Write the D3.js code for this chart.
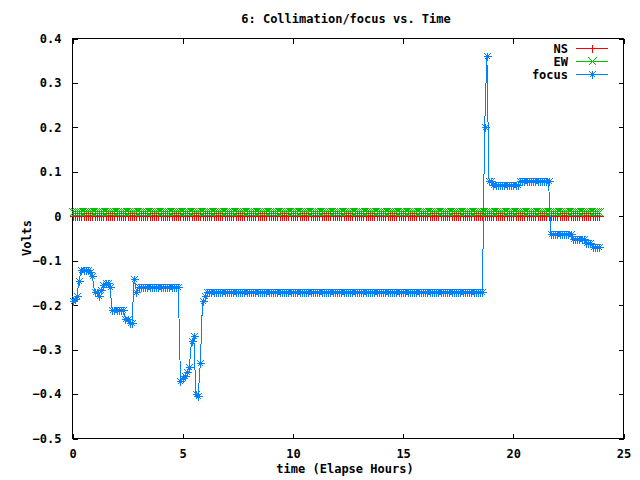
<!DOCTYPE html>
<html>
<head>
<meta charset="utf-8">
<script src="https://cdn.jsdelivr.net/npm/d3@7"></script>
<style>
    body { margin: 0; background: #fff; }
    svg text { font-family: "DejaVu Sans Mono", "Liberation Mono", monospace; font-size: 12px; font-weight: bold; fill: #000; }
</style>
</head>
<body>
<div id="chart"></div>
<script>
// sample times (elapsed hours), one reading every 0.1 h
const hours = [
    0.0, 0.1, 0.2, 0.3, 0.4, 0.5, 0.6, 0.7, 0.8, 0.9, 1.0, 1.1, 1.2, 1.3, 1.4, 1.5, 1.6, 1.7, 1.8, 1.9,
    2.0, 2.1, 2.2, 2.3, 2.4, 2.5, 2.6, 2.7, 2.8, 2.9, 3.0, 3.1, 3.2, 3.3, 3.4, 3.5, 3.6, 3.7, 3.8, 3.9,
    4.0, 4.1, 4.2, 4.3, 4.4, 4.5, 4.6, 4.7, 4.8, 4.9, 5.0, 5.1, 5.2, 5.3, 5.4, 5.5, 5.6, 5.7, 5.8, 5.9,
    6.0, 6.1, 6.2, 6.3, 6.4, 6.5, 6.6, 6.7, 6.8, 6.9, 7.0, 7.1, 7.2, 7.3, 7.4, 7.5, 7.6, 7.7, 7.8, 7.9,
    8.0, 8.1, 8.2, 8.3, 8.4, 8.5, 8.6, 8.7, 8.8, 8.9, 9.0, 9.1, 9.2, 9.3, 9.4, 9.5, 9.6, 9.7, 9.8, 9.9,
    10.0, 10.1, 10.2, 10.3, 10.4, 10.5, 10.6, 10.7, 10.8, 10.9, 11.0, 11.1, 11.2, 11.3, 11.4, 11.5, 11.6, 11.7, 11.8, 11.9,
    12.0, 12.1, 12.2, 12.3, 12.4, 12.5, 12.6, 12.7, 12.8, 12.9, 13.0, 13.1, 13.2, 13.3, 13.4, 13.5, 13.6, 13.7, 13.8, 13.9,
    14.0, 14.1, 14.2, 14.3, 14.4, 14.5, 14.6, 14.7, 14.8, 14.9, 15.0, 15.1, 15.2, 15.3, 15.4, 15.5, 15.6, 15.7, 15.8, 15.9,
    16.0, 16.1, 16.2, 16.3, 16.4, 16.5, 16.6, 16.7, 16.8, 16.9, 17.0, 17.1, 17.2, 17.3, 17.4, 17.5, 17.6, 17.7, 17.8, 17.9,
    18.0, 18.1, 18.2, 18.3, 18.4, 18.5, 18.6, 18.7, 18.8, 18.9, 19.0, 19.1, 19.2, 19.3, 19.4, 19.5, 19.6, 19.7, 19.8, 19.9,
    20.0, 20.1, 20.2, 20.3, 20.4, 20.5, 20.6, 20.7, 20.8, 20.9, 21.0, 21.1, 21.2, 21.3, 21.4, 21.5, 21.6, 21.7, 21.8, 21.9,
    22.0, 22.1, 22.2, 22.3, 22.4, 22.5, 22.6, 22.7, 22.8, 22.9, 23.0, 23.1, 23.2, 23.3, 23.4, 23.5, 23.6, 23.7, 23.8, 23.9
];

const nsVolts = [
    0, 0, 0, 0, 0, 0, 0, 0, 0, 0, 0, 0, 0, 0, 0, 0, 0, 0, 0, 0,
    0, 0, 0, 0, 0, 0, 0, 0, 0, 0, 0, 0, 0, 0, 0, 0, 0, 0, 0, 0,
    0, 0, 0, 0, 0, 0, 0, 0, 0, 0, 0, 0, 0, 0, 0, 0, 0, 0, 0, 0,
    0, 0, 0, 0, 0, 0, 0, 0, 0, 0, 0, 0, 0, 0, 0, 0, 0, 0, 0, 0,
    0, 0, 0, 0, 0, 0, 0, 0, 0, 0, 0, 0, 0, 0, 0, 0, 0, 0, 0, 0,
    0, 0, 0, 0, 0, 0, 0, 0, 0, 0, 0, 0, 0, 0, 0, 0, 0, 0, 0, 0,
    0, 0, 0, 0, 0, 0, 0, 0, 0, 0, 0, 0, 0, 0, 0, 0, 0, 0, 0, 0,
    0, 0, 0, 0, 0, 0, 0, 0, 0, 0, 0, 0, 0, 0, 0, 0, 0, 0, 0, 0,
    0, 0, 0, 0, 0, 0, 0, 0, 0, 0, 0, 0, 0, 0, 0, 0, 0, 0, 0, 0,
    0, 0, 0, 0, 0, 0, 0, 0, 0, 0, 0, 0, 0, 0, 0, 0, 0, 0, 0, 0,
    0, 0, 0, 0, 0, 0, 0, 0, 0, 0, 0, 0, 0, 0, 0, 0, 0, 0, 0, 0,
    0, 0, 0, 0, 0, 0, 0, 0, 0, 0, 0, 0, 0, 0, 0, 0, 0, 0, 0, 0
];

const ewVolts = [
    0.01, 0.01, 0.01, 0.01, 0.01, 0.01, 0.01, 0.01, 0.01, 0.01, 0.01, 0.01, 0.01, 0.01, 0.01, 0.01, 0.01, 0.01, 0.01, 0.01,
    0.01, 0.01, 0.01, 0.01, 0.01, 0.01, 0.01, 0.01, 0.01, 0.01, 0.01, 0.01, 0.01, 0.01, 0.01, 0.01, 0.01, 0.01, 0.01, 0.01,
    0.01, 0.01, 0.01, 0.01, 0.01, 0.01, 0.01, 0.01, 0.01, 0.01, 0.01, 0.01, 0.01, 0.01, 0.01, 0.01, 0.01, 0.01, 0.01, 0.01,
    0.01, 0.01, 0.01, 0.01, 0.01, 0.01, 0.01, 0.01, 0.01, 0.01, 0.01, 0.01, 0.01, 0.01, 0.01, 0.01, 0.01, 0.01, 0.01, 0.01,
    0.01, 0.01, 0.01, 0.01, 0.01, 0.01, 0.01, 0.01, 0.01, 0.01, 0.01, 0.01, 0.01, 0.01, 0.01, 0.01, 0.01, 0.01, 0.01, 0.01,
    0.01, 0.01, 0.01, 0.01, 0.01, 0.01, 0.01, 0.01, 0.01, 0.01, 0.01, 0.01, 0.01, 0.01, 0.01, 0.01, 0.01, 0.01, 0.01, 0.01,
    0.01, 0.01, 0.01, 0.01, 0.01, 0.01, 0.01, 0.01, 0.01, 0.01, 0.01, 0.01, 0.01, 0.01, 0.01, 0.01, 0.01, 0.01, 0.01, 0.01,
    0.01, 0.01, 0.01, 0.01, 0.01, 0.01, 0.01, 0.01, 0.01, 0.01, 0.01, 0.01, 0.01, 0.01, 0.01, 0.01, 0.01, 0.01, 0.01, 0.01,
    0.01, 0.01, 0.01, 0.01, 0.01, 0.01, 0.01, 0.01, 0.01, 0.01, 0.01, 0.01, 0.01, 0.01, 0.01, 0.01, 0.01, 0.01, 0.01, 0.01,
    0.01, 0.01, 0.01, 0.01, 0.01, 0.01, 0.01, 0.01, 0.01, 0.01, 0.01, 0.01, 0.01, 0.01, 0.01, 0.01, 0.01, 0.01, 0.01, 0.01,
    0.01, 0.01, 0.01, 0.01, 0.01, 0.01, 0.01, 0.01, 0.01, 0.01, 0.01, 0.01, 0.01, 0.01, 0.01, 0.01, 0.01, 0.01, 0.01, 0.01,
    0.01, 0.01, 0.01, 0.01, 0.01, 0.01, 0.01, 0.01, 0.01, 0.01, 0.01, 0.01, 0.01, 0.01, 0.01, 0.01, 0.01, 0.01, 0.01, 0.01
];

const focusVolts = [
    -0.19, -0.185, -0.18, -0.145, -0.12, -0.12, -0.12, -0.12, -0.125, -0.135,
    -0.17, -0.17, -0.18, -0.165, -0.155, -0.15, -0.15, -0.16, -0.21, -0.21,
    -0.21, -0.21, -0.21, -0.21, -0.23, -0.23, -0.24, -0.24, -0.14, -0.17,
    -0.16, -0.16, -0.16, -0.16, -0.16, -0.16, -0.16, -0.16, -0.16, -0.16,
    -0.16, -0.16, -0.16, -0.16, -0.16, -0.16, -0.16, -0.16, -0.16, -0.37,
    -0.365, -0.36, -0.35, -0.34, -0.28, -0.27, -0.40, -0.405, -0.33, -0.19,
    -0.18, -0.17, -0.17, -0.17, -0.17, -0.17, -0.17, -0.17, -0.17, -0.17,
    -0.17, -0.17, -0.17, -0.17, -0.17, -0.17, -0.17, -0.17, -0.17, -0.17,
    -0.17, -0.17, -0.17, -0.17, -0.17, -0.17, -0.17, -0.17, -0.17, -0.17,
    -0.17, -0.17, -0.17, -0.17, -0.17, -0.17, -0.17, -0.17, -0.17, -0.17,
    -0.17, -0.17, -0.17, -0.17, -0.17, -0.17, -0.17, -0.17, -0.17, -0.17,
    -0.17, -0.17, -0.17, -0.17, -0.17, -0.17, -0.17, -0.17, -0.17, -0.17,
    -0.17, -0.17, -0.17, -0.17, -0.17, -0.17, -0.17, -0.17, -0.17, -0.17,
    -0.17, -0.17, -0.17, -0.17, -0.17, -0.17, -0.17, -0.17, -0.17, -0.17,
    -0.17, -0.17, -0.17, -0.17, -0.17, -0.17, -0.17, -0.17, -0.17, -0.17,
    -0.17, -0.17, -0.17, -0.17, -0.17, -0.17, -0.17, -0.17, -0.17, -0.17,
    -0.17, -0.17, -0.17, -0.17, -0.17, -0.17, -0.17, -0.17, -0.17, -0.17,
    -0.17, -0.17, -0.17, -0.17, -0.17, -0.17, -0.17, -0.17, -0.17, -0.17,
    -0.17, -0.17, -0.17, -0.17, -0.17, -0.17, -0.17, 0.20, 0.36, 0.08,
    0.08, 0.07, 0.07, 0.07, 0.07, 0.07, 0.07, 0.07, 0.07, 0.07,
    0.07, 0.07, 0.07, 0.08, 0.08, 0.08, 0.08, 0.08, 0.08, 0.08,
    0.08, 0.08, 0.08, 0.08, 0.08, 0.08, 0.08, -0.04, -0.04, -0.04,
    -0.04, -0.04, -0.04, -0.04, -0.04, -0.04, -0.04, -0.05, -0.05, -0.05,
    -0.05, -0.05, -0.05, -0.06, -0.06, -0.06, -0.07, -0.07, -0.07, -0.07
];

const xTicks = [0, 5, 10, 15, 20, 25];
const yTicks = [0.4, 0.3, 0.2, 0.1, 0, -0.1, -0.2, -0.3, -0.4, -0.5];
const seriesNames = ["NS", "EW", "focus"];
const seriesColors = ["#ff0000", "#00c000", "#0080ff"];
const seriesMarks = ["plus", "times", "star"];

// gnuplot style point shapes, drawn as strokes
function markPath(kind, s) {
    const plus = `M${-s},0H${s}M0,${-s}V${s}`;
    const times = `M${-s},${-s}L${s},${s}M${-s},${s}L${s},${-s}`;
    if (kind == "plus") return plus;
    if (kind == "times") return times;
    return plus + `M${-s + 1},${-s + 1}L${s - 1},${s - 1}M${-s + 1},${s - 1}L${s - 1},${-s + 1}`;
}

function drawChart() {
    const width = 640, height = 480;
    const left = 72.5, right = 623.5, top = 38.5, bottom = 438.5;

    const svg = d3.select("#chart").append("svg")
        .attr("width", width)
        .attr("height", height)
        .attr("shape-rendering", "crispEdges");

    const x = d3.scaleLinear().domain([0, 25]).range([left, right]);
    const y = d3.scaleLinear().domain([-0.5, 0.4]).range([bottom, top]);

    const fmt = function(d) { return d == 0 ? "0" : d3.format(".1f")(d); };

    // axes: labels outside, ticks inward, mirrored on the other side
    svg.append("g")
        .attr("transform", `translate(0,${bottom})`)
        .call(d3.axisBottom(x).tickValues(xTicks).tickSize(-5).tickPadding(11).tickFormat(function(d) { return d; }))
        .call(g => g.select(".domain").remove());
    svg.append("g")
        .attr("transform", `translate(0,${top})`)
        .call(d3.axisTop(x).tickValues(xTicks).tickSize(-5).tickFormat(""))
        .call(g => g.select(".domain").remove());
    svg.append("g")
        .attr("transform", `translate(${left},0)`)
        .call(d3.axisLeft(y).tickValues(yTicks).tickSize(-5).tickPadding(11).tickFormat(fmt))
        .call(g => g.select(".domain").remove());
    svg.append("g")
        .attr("transform", `translate(${right},0)`)
        .call(d3.axisRight(y).tickValues(yTicks).tickSize(-5).tickFormat(""))
        .call(g => g.select(".domain").remove());

    svg.selectAll(".tick line").attr("stroke", "#000");
    svg.selectAll(".tick text")
        .attr("fill", "#000")
        .style("font-family", '"DejaVu Sans Mono", monospace')
        .style("font-size", "12px")
        .style("font-weight", "bold");

    svg.append("rect")
        .attr("x", left).attr("y", top)
        .attr("width", right - left).attr("height", bottom - top)
        .attr("fill", "none").attr("stroke", "#000");

    const allSeries = [nsVolts, ewVolts, focusVolts];
    const line = d3.line()
        .x(function(d) { return x(d[0]); })
        .y(function(d) { return y(d[1]); });

    allSeries.forEach(function(values, k) {
        const pts = hours.map(function(h, i) { return [h, values[i]]; });
        const g = svg.append("g");
        g.append("path")
            .datum(pts)
            .attr("d", line)
            .attr("fill", "none")
            .attr("stroke", seriesColors[k])
            .attr("stroke-width", 1);
        g.selectAll("path.mark")
            .data(pts)
            .enter()
            .append("path")
            .attr("class", "mark")
            .attr("transform", function(d) { return `translate(${Math.round(x(d[0])) + 0.5},${Math.round(y(d[1])) + 0.5})`; })
            .attr("d", markPath(seriesMarks[k], 4))
            .attr("fill", "none")
            .attr("stroke", seriesColors[k])
            .attr("stroke-width", 1);
    });

    // legend, top right
    const legend = svg.append("g");
    seriesNames.forEach(function(name, k) {
        const ly = 48.5 + k * 13;
        legend.append("text")
            .attr("x", 568).attr("y", ly)
            .attr("dy", "0.35em")
            .attr("text-anchor", "end")
            .text(name);
        legend.append("line")
            .attr("x1", 576).attr("x2", 608)
            .attr("y1", ly).attr("y2", ly)
            .attr("stroke", seriesColors[k]);
        legend.append("path")
            .attr("transform", `translate(592.5,${ly})`)
            .attr("d", markPath(seriesMarks[k], 4))
            .attr("fill", "none")
            .attr("stroke", seriesColors[k]);
    });

    svg.append("text")
        .attr("x", 346).attr("y", 19)
        .attr("dy", "0.35em")
        .attr("text-anchor", "middle")
        .text("6: Collimation/focus vs. Time");

    svg.append("text")
        .attr("x", 345).attr("y", 469)
        .attr("dy", "0.35em")
        .attr("text-anchor", "middle")
        .text("time (Elapse Hours)");

    svg.append("text")
        .attr("transform", "translate(27,238) rotate(-90)")
        .attr("dy", "0.35em")
        .attr("text-anchor", "middle")
        .text("Volts");
}

document.addEventListener('DOMContentLoaded', (e) => {
    drawChart();
});
</script>
</body>
</html>
